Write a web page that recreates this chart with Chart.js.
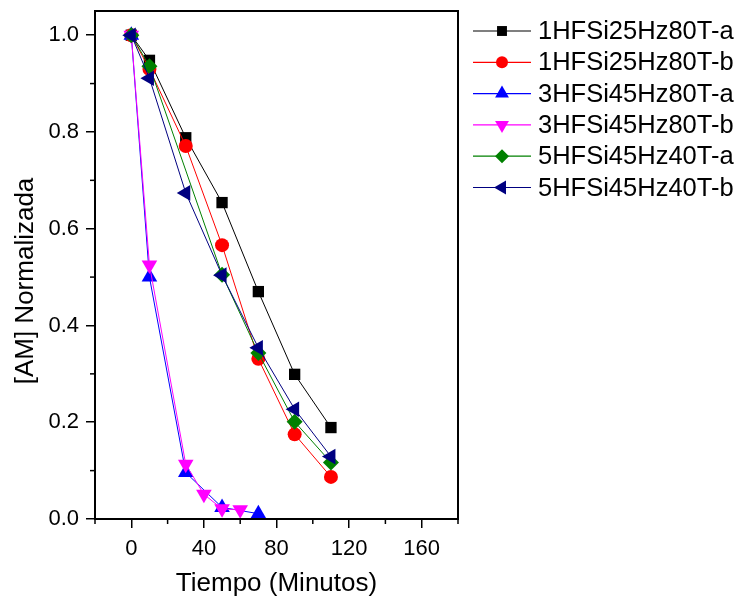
<!DOCTYPE html>
<html>
<head>
<meta charset="utf-8">
<script src="https://cdn.jsdelivr.net/npm/chart.js@4/dist/chart.umd.min.js"></script>
<style>
  html,body{margin:0;padding:0;background:#fff;}
  #wrap{width:739px;height:600px;}
</style>
</head>
<body>
<div id="wrap"><canvas id="grafico" width="739" height="600"></canvas></div>
<script>
/* ---- datos ---- */
const series = ['1HFSi25Hz80T-a','1HFSi25Hz80T-b','3HFSi45Hz80T-a','3HFSi45Hz80T-b','5HFSi45Hz40T-a','5HFSi45Hz40T-b'];

const t1a = [0,10,30,50,70,90,110];
const am1a = [1.0,0.948,0.788,0.654,0.470,0.299,0.189];

const t1b = [0,10,30,50,70,90,110];
const am1b = [1.0,0.930,0.771,0.566,0.331,0.175,0.087];

const t3a = [0,10,30,50,70];
const am3a = [1.0,0.500,0.096,0.024,0.011];

const t3b = [0,10,30,40,50,60];
const am3b = [1.0,0.525,0.113,0.051,0.021,0.019];

const t5a = [0,10,50,70,90,110];
const am5a = [1.0,0.936,0.505,0.343,0.201,0.117];

const t5b = [0,10,30,50,70,90,110];
const am5b = [1.0,0.911,0.674,0.504,0.354,0.227,0.129];

const xTicks = [0,40,80,120,160];
const yTicks = [0,0.2,0.4,0.6,0.8,1.0];

/* ---- estilos ---- */
const FONT = "'Liberation Sans', Arial, sans-serif";
const estilos = [
  {color:'#000000', pointStyle:'rect', radius:8, rotation:0},
  {color:'#ff0000', pointStyle:'circle', radius:7, rotation:0},
  {color:'#0000ff', pointStyle:'triangle', radius:9, rotation:0},
  {color:'#ff00ff', pointStyle:'triangle', radius:9, rotation:180},
  {color:'#008000', pointStyle:'rectRot', radius:8, rotation:0},
  {color:'#000080', pointStyle:'triangle', radius:9, rotation:-90}
];
const xs = [t1a,t1b,t3a,t3b,t5a,t5b];
const ys = [am1a,am1b,am3a,am3b,am5a,am5b];

const datasets = series.map((nombre,i)=>{
  const e = estilos[i];
  return {
    label:nombre,
    data: xs[i].map((x,k)=>({x, y:ys[i][k]})),
    showLine:true,
    borderColor:e.color, backgroundColor:e.color,
    borderWidth:1,
    pointStyle:e.pointStyle, pointRadius:e.radius, pointRotation:e.rotation,
    pointBorderWidth:0, pointBackgroundColor:e.color, pointBorderColor:e.color,
    order: series.length-1-i
  };
});

/* ---- plugin: marco, ticks menores, títulos y leyenda ---- */
const extras = {
  id:'extras',
  afterDraw(chart){
    const {ctx, chartArea:a, scales:{x, y}} = chart;
    ctx.save();
    // ticks menores
    ctx.strokeStyle='#000'; ctx.lineWidth=1.5;
    [-20,20,60,100,140,180].forEach(v=>{
      const px = x.getPixelForValue(v);
      ctx.beginPath(); ctx.moveTo(px,a.bottom); ctx.lineTo(px,a.bottom+5); ctx.stroke();
    });
    [0.1,0.3,0.5,0.7,0.9].forEach(v=>{
      const py = y.getPixelForValue(v);
      ctx.beginPath(); ctx.moveTo(a.left,py); ctx.lineTo(a.left-5,py); ctx.stroke();
    });
    // marco
    ctx.lineWidth=2;
    ctx.strokeRect(a.left, a.top, a.right-a.left, a.bottom-a.top);

    // títulos de ejes
    ctx.fillStyle='#000';
    ctx.font = '26px '+FONT;
    ctx.textAlign='center'; ctx.textBaseline='middle';
    ctx.fillText('Tiempo (Minutos)', (a.left+a.right)/2, 584);
    ctx.translate(26, 281); ctx.rotate(-Math.PI/2);
    ctx.fillText('[AM] Normalizada', 0, 0);
    ctx.setTransform(1,0,0,1,0,0);

    // leyenda
    ctx.font = '25.5px '+FONT;
    ctx.textAlign='left';
    series.forEach((nombre,i)=>{
      const e = estilos[i];
      const yy = 31 + i*31.3;
      ctx.strokeStyle=e.color; ctx.lineWidth=1.2;
      ctx.beginPath(); ctx.moveTo(473,yy); ctx.lineTo(531,yy); ctx.stroke();
      ctx.fillStyle=e.color;
      Chart.helpers.drawPoint(ctx,{pointStyle:e.pointStyle, rotation:e.rotation, radius:e.radius-1, borderWidth:0}, 502, yy);
      ctx.fillStyle='#000';
      ctx.fillText(nombre, 538, yy+1);
    });
    ctx.restore();
  }
};

new Chart(document.getElementById('grafico'),{
  type:'scatter',
  data:{datasets},
  options:{
    responsive:false,
    animation:false,
    layout:{padding:{top:11,right:281,left:0,bottom:0}},
    plugins:{legend:{display:false}, tooltip:{enabled:false}},
    scales:{
      x:{
        type:'linear', min:-20, max:180,
        afterBuildTicks:(s)=>{ s.ticks = xTicks.map(v=>({value:v})); },
        afterFit:(s)=>{ s.height = 81; s.paddingLeft = 0; s.paddingRight = 0; },
        border:{display:false},
        grid:{drawOnChartArea:false, drawTicks:true, tickLength:9, color:'#000', lineWidth:1.5},
        ticks:{color:'#000', padding:8, font:{family:FONT, size:22}, maxRotation:0}
      },
      y:{
        type:'linear', min:0, max:1.05,
        afterBuildTicks:(s)=>{ s.ticks = yTicks.map(v=>({value:v})); },
        afterFit:(s)=>{ s.width = 95; s.paddingTop = 0; s.paddingBottom = 0; },
        border:{display:false},
        grid:{drawOnChartArea:false, drawTicks:true, tickLength:9, color:'#000', lineWidth:1.5},
        ticks:{color:'#000', padding:7, font:{family:FONT, size:22}, callback:(v)=>Number(v).toFixed(1)}
      }
    }
  },
  plugins:[extras]
});
</script>
</body>
</html>
